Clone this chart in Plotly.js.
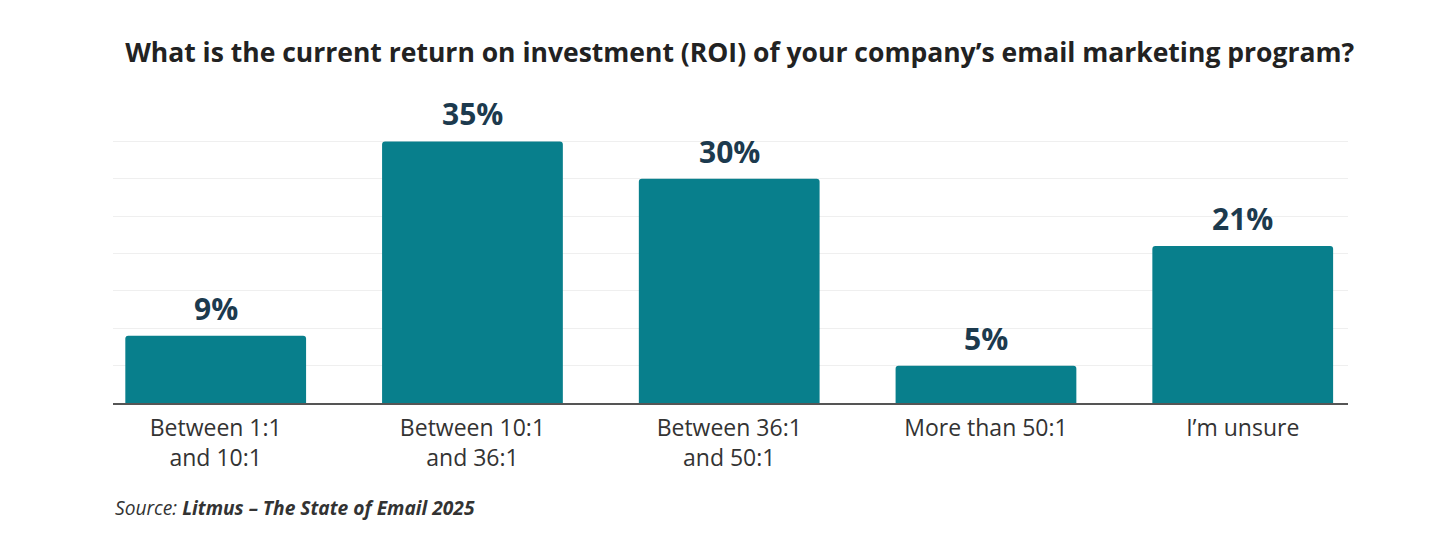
<!DOCTYPE html>
<html>
<head>
<meta charset="utf-8">
<script src="https://cdn.plot.ly/plotly-3.0.1.min.js"></script>
<style>
  html, body { margin: 0; padding: 0; background: #ffffff; }
  #chart { width: 1439px; height: 560px; }
</style>
</head>
<body>
<div id="chart"></div>
<script>
// Survey answers: email marketing ROI
const categories = [
  "Between 1:1<br>and 10:1",
  "Between 10:1<br>and 36:1",
  "Between 36:1<br>and 50:1",
  "More than 50:1",
  "I’m unsure"
];
const shares = [9, 35, 30, 5, 21];
const valueLabels = ["9%", "35%", "30%", "5%", "21%"];

const barColor = "#087f8c";
const labelColor = "#1c3a4e";
const font = "'Open Sans', sans-serif";

const trace = {
  type: "bar",
  x: categories,
  y: shares,
  marker: { color: barColor, cornerradius: 3 },
  hoverinfo: "skip"
};

const valueAnnotations = categories.map((c, i) => ({
  x: c,
  y: shares[i],
  xref: "x",
  yref: "y",
  text: "<b>" + valueLabels[i] + "</b>",
  showarrow: false,
  yanchor: "bottom",
  yshift: 5,
  font: { family: font, size: 30, color: labelColor }
}));

const layout = {
  width: 1439,
  height: 560,
  paper_bgcolor: "#ffffff",
  plot_bgcolor: "#ffffff",
  margin: { l: 113, r: 91, t: 134, b: 157 },
  bargap: 0.296,
  showlegend: false,
  title: {
    text: "<b>What is the current return on investment (ROI) of your company’s email marketing program?</b>",
    x: 0.514,
    xanchor: "center",
    y: 0.905,
    yanchor: "middle",
    font: { family: font, size: 26.5, color: "#222222" }
  },
  xaxis: {
    type: "category",
    range: [-0.4, 4.41],
    showgrid: false,
    showline: true,
    linecolor: "#555555",
    linewidth: 2,
    ticks: "",
    tickfont: { family: font, size: 23, color: "#333333" },
    ticklabelstandoff: 3,
    fixedrange: true
  },
  yaxis: {
    range: [0, 36],
    dtick: 5,
    showgrid: true,
    gridcolor: "#efefef",
    gridwidth: 1,
    zeroline: false,
    showticklabels: false,
    ticks: "",
    fixedrange: true
  },
  annotations: valueAnnotations.concat([{
    xref: "paper",
    yref: "paper",
    x: 0,
    y: -0.39,
    xanchor: "left",
    yanchor: "middle",
    showarrow: false,
    text: "<i>Source: <b>Litmus – The State of Email 2025</b></i>",
    font: { family: font, size: 19.2, color: "#333333" }
  }])
};

Plotly.newPlot("chart", [trace], layout, { displayModeBar: false, staticPlot: true });
</script>
</body>
</html>
